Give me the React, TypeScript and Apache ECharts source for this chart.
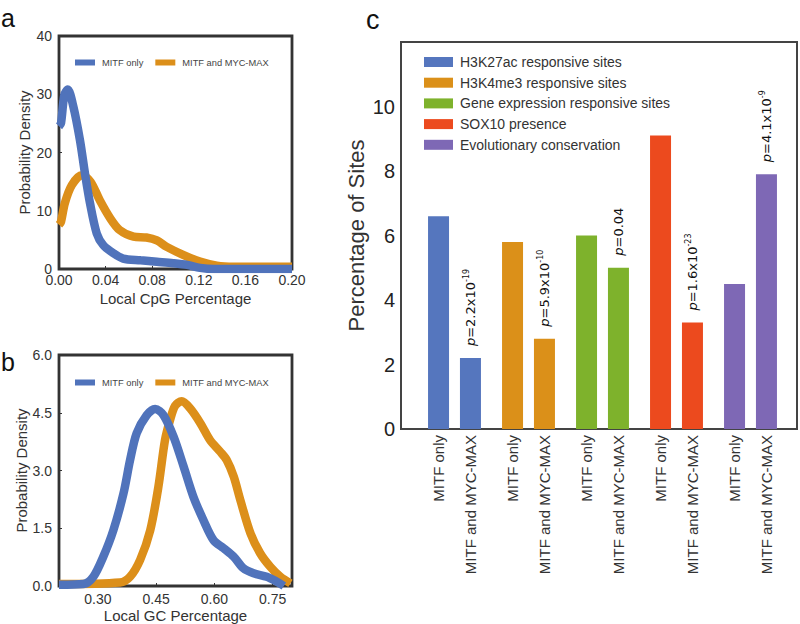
import React, { useEffect, useRef } from "react";
import * as echarts from "echarts";

// ---------- Data ----------
// Panel a: Local CpG percentage densities
const cpgMitfOnly: [number, number][] = [
  [0.0, 24.5], [0.0017, 25.0], [0.0046, 29.9], [0.0075, 30.8], [0.0123, 27.9], [0.018, 22.1],
  [0.0223, 16.4], [0.0266, 11.3], [0.0324, 6.1], [0.038, 4.1], [0.0467, 2.7], [0.055, 1.8],
  [0.07, 1.5], [0.084, 1.25], [0.098, 1.0], [0.11, 0.7], [0.121, 0.2], [0.133, 0.0], [0.2, 0.0],
];
const cpgMitfMycMax: [number, number][] = [
  [0.0, 7.6], [0.0017, 8.1], [0.005, 11.3], [0.011, 14.4], [0.0195, 16.1], [0.027, 15.0],
  [0.035, 11.8], [0.044, 8.7], [0.052, 6.7], [0.064, 5.55], [0.075, 5.4], [0.084, 4.9],
  [0.0925, 3.8], [0.107, 2.4], [0.121, 1.26], [0.1355, 0.57], [0.15, 0.4], [0.178, 0.4], [0.2, 0.4],
];
// Panel b: Local GC percentage densities
const gcMitfOnly: [number, number][] = [
  [0.2, 0.03], [0.263, 0.05], [0.2885, 0.24], [0.314, 0.76], [0.34, 1.45], [0.366, 2.4],
  [0.383, 3.27], [0.4, 3.97], [0.426, 4.44], [0.4476, 4.6], [0.469, 4.44], [0.495, 3.88],
  [0.521, 3.1], [0.546, 2.32], [0.572, 1.71], [0.598, 1.19], [0.624, 0.98], [0.65, 0.76],
  [0.675, 0.46], [0.701, 0.33], [0.735, 0.24], [0.761, 0.11], [0.779, 0.0],
];
const gcMitfMycMax: [number, number][] = [
  [0.2, 0.05], [0.357, 0.09], [0.383, 0.24], [0.409, 0.68], [0.435, 1.45], [0.456, 2.58],
  [0.473, 3.79], [0.486, 4.31], [0.499, 4.68], [0.516, 4.8], [0.538, 4.61], [0.564, 4.23],
  [0.589, 3.79], [0.615, 3.49], [0.632, 3.27], [0.65, 2.84], [0.667, 2.23], [0.693, 1.37],
  [0.718, 0.85], [0.744, 0.5], [0.77, 0.24], [0.796, 0.07],
];
const densityNames = ["MITF only", "MITF and MYC-MAX"];
const gcTicks = [0.3, 0.45, 0.6, 0.75];

// Panel c: percentage of sites
const features = [
  "H3K27ac responsive sites",
  "H3K4me3 responsive sites",
  "Gene expression responsive sites",
  "SOX10 presence",
  "Evolutionary conservation",
];
const pctMitfOnly = [6.6, 5.8, 6.0, 9.1, 4.5];
const pctMitfMycMax = [2.2, 2.8, 5.0, 3.3, 7.9];
const pMantissa = ["2.2", "5.9", "0.04", "1.6", "4.1"];
const pExponent = ["-19", "-10", "", "-23", "-9"];
const cTicks = [0, 2, 4, 6, 8, 10];

// ---------- Styles ----------
const BLUE = "#5073bb";
const ORANGE = "#dc8f1a";
const featureColors = ["#5576be", "#db9019", "#7eb22c", "#ec4a1e", "#7e68b5"];
const SANS = "Liberation Sans";
const TXT = "#333";

export default function App() {
  const ref = useRef<HTMLDivElement>(null);
  useEffect(() => {
    document.body.style.margin = "0";
    if (!ref.current) return;
    const chart = echarts.init(ref.current, null, { renderer: "svg" });

    const densityX = (min: number, max: number, gridIndex: number, name: string, extra: any) => ({
      type: "value",
      gridIndex,
      min,
      max,
      name,
      nameLocation: "middle",
      nameGap: 22,
      nameTextStyle: { fontSize: 15, color: TXT, fontFamily: SANS },
      axisLine: { show: false },
      axisTick: { show: true, inside: true, length: 3, lineStyle: { color: TXT } },
      splitLine: { show: false },
      ...extra,
    });
    const densityY = (max: number, interval: number, gridIndex: number, digits: number) => ({
      type: "value",
      gridIndex,
      min: 0,
      max,
      interval,
      name: "Probability Density",
      nameLocation: "middle",
      nameGap: 27,
      nameTextStyle: { fontSize: 15, color: TXT, fontFamily: SANS },
      axisLine: { show: false },
      axisTick: { show: true, inside: true, length: 3, lineStyle: { color: TXT } },
      splitLine: { show: false },
      axisLabel: {
        fontSize: 14,
        color: TXT,
        fontFamily: SANS,
        margin: 7,
        formatter: (v: number) => v.toFixed(digits),
      },
    });
    const lineSeries = (name: string, data: [number, number][], color: string, idx: number) => ({
      type: "line",
      name,
      xAxisIndex: idx,
      yAxisIndex: idx,
      data,
      smooth: 0.3,
      showSymbol: false,
      symbol: "none",
      lineStyle: { width: 8.5, color },
      itemStyle: { color },
      z: name === densityNames[0] ? 3 : 2,
    });
    const densityLegend = (top: number) => ({
      data: densityNames,
      left: 70,
      top,
      orient: "horizontal",
      icon: "rect",
      itemWidth: 20,
      itemHeight: 6,
      itemGap: 12,
      selectedMode: false,
      textStyle: { fontSize: 9.3, color: "#444", fontFamily: SANS, padding: [0, 0, 0, 2] },
    });

    const pFormatter = (i: number) =>
      pExponent[i]
        ? `{i|p}{n|=${pMantissa[i]}x10}{s|${pExponent[i]}}`
        : `{i|p}{n|=${pMantissa[i]}}`;

    const option: any = {
      animation: false,
      backgroundColor: "#fff",
      textStyle: { fontFamily: SANS },
      grid: [
        { left: 59, top: 36, width: 233, height: 233, show: true, borderColor: "#333", borderWidth: 2.8, backgroundColor: "transparent" },
        { left: 59, top: 355, width: 233, height: 231, show: true, borderColor: "#333", borderWidth: 2.8, backgroundColor: "transparent" },
        { left: 417.5, top: 42, width: 370, height: 387, show: false },
        { left: 401, top: 42, width: 396, height: 387, show: true, borderColor: "#444", borderWidth: 2, backgroundColor: "transparent" },
      ],
      xAxis: [
        densityX(0, 0.2, 0, "Local CpG Percentage", {
          interval: 0.04,
          axisLabel: { fontSize: 14, color: TXT, fontFamily: SANS, margin: 4, formatter: (v: number) => v.toFixed(2) },
        }),
        densityX(0.2, 0.8, 1, "Local GC Percentage", {
          axisLabel: {
            fontSize: 14, color: TXT, fontFamily: SANS, margin: 6,
            customValues: gcTicks,
            formatter: (v: number) => v.toFixed(2),
          },
          axisTick: { show: true, inside: true, length: 3, lineStyle: { color: TXT }, customValues: gcTicks },
        }),
        {
          type: "category",
          gridIndex: 2,
          data: features,
          boundaryGap: true,
          axisLine: { show: false },
          axisTick: { show: false },
          axisLabel: { show: false },
          splitLine: { show: false },
        },
        { type: "value", gridIndex: 3, min: 0, max: 1, show: false },
      ],
      yAxis: [
        densityY(40, 10, 0, 0),
        densityY(6, 1.5, 1, 1),
        { type: "value", gridIndex: 2, min: 0, max: 12, show: false },
        {
          type: "value",
          gridIndex: 3,
          min: 0,
          max: 12,
          interval: 2,
          name: "Percentage of Sites",
          nameLocation: "middle",
          nameGap: 34,
          nameTextStyle: { fontSize: 22, color: TXT, fontFamily: SANS },
          axisLine: { show: false },
          axisTick: { show: false },
          splitLine: { show: false },
          axisLabel: {
            fontSize: 20,
            color: "#222",
            fontFamily: SANS,
            margin: 6,
            formatter: (v: number) => (cTicks.indexOf(v) >= 0 ? String(v) : ""),
          },
        },
      ],
      legend: [
        densityLegend(53),
        densityLegend(373),
        {
          data: features,
          left: 419,
          top: 50,
          orient: "vertical",
          icon: "rect",
          itemWidth: 29,
          itemHeight: 10,
          itemGap: 6.7,
          selectedMode: false,
          textStyle: { fontSize: 14, lineHeight: 14, color: TXT, fontFamily: SANS, padding: [0, 0, 0, 2] },
        },
      ],
      series: [
        lineSeries(densityNames[0], cpgMitfOnly, BLUE, 0),
        lineSeries(densityNames[1], cpgMitfMycMax, ORANGE, 0),
        lineSeries(densityNames[0], gcMitfOnly, BLUE, 1),
        lineSeries(densityNames[1], gcMitfMycMax, ORANGE, 1),
        {
          type: "bar",
          name: "bars: " + densityNames[0],
          xAxisIndex: 2,
          yAxisIndex: 2,
          barWidth: 21,
          barGap: "52%",
          data: pctMitfOnly.map((v, i) => ({ value: v, itemStyle: { color: featureColors[i] } })),
          label: {
            show: true,
            position: "bottom",
            distance: 6,
            rotate: 90,
            align: "right",
            verticalAlign: "middle",
            fontSize: 15,
            color: TXT,
            fontFamily: SANS,
            formatter: () => densityNames[0],
          },
        },
        {
          type: "bar",
          name: "bars: " + densityNames[1],
          xAxisIndex: 2,
          yAxisIndex: 2,
          stack: "myc",
          barWidth: 21,
          barGap: "52%",
          data: pctMitfMycMax.map((v, i) => ({ value: v, itemStyle: { color: featureColors[i] } })),
          label: {
            show: true,
            position: "bottom",
            distance: 6,
            rotate: 90,
            align: "right",
            verticalAlign: "middle",
            fontSize: 15,
            color: TXT,
            fontFamily: SANS,
            formatter: () => densityNames[1],
          },
        },
        {
          type: "bar",
          name: "bars: p",
          xAxisIndex: 2,
          yAxisIndex: 2,
          stack: "myc",
          barWidth: 21,
          barGap: "52%",
          data: pctMitfMycMax.map(() => 0),
          itemStyle: { color: "transparent" },
          label: {
            show: true,
            position: "top",
            distance: 12,
            rotate: 90,
            align: "left",
            verticalAlign: "middle",
            color: "#111",
            formatter: (p: any) => pFormatter(p.dataIndex),
            rich: {
              i: { fontSize: 13, fontStyle: "italic", fontFamily: "DejaVu Sans", color: "#111", lineHeight: 16 },
              n: { fontSize: 13, fontFamily: "DejaVu Sans", color: "#111", lineHeight: 16 },
              s: { fontSize: 8, fontFamily: "DejaVu Sans", color: "#111", lineHeight: 8, verticalAlign: "top" },
            },
          },
        },
        ...features.map((f, i) => ({
          type: "bar",
          name: f,
          xAxisIndex: 3,
          yAxisIndex: 3,
          data: [],
          itemStyle: { color: featureColors[i] },
        })),
      ],
      graphic: [
        { type: "text", left: 1, top: 5, style: { text: "a", fontSize: 25, lineHeight: 18, fontFamily: SANS, fill: "#111" } },
        { type: "text", left: 1, top: 349, style: { text: "b", fontSize: 25, lineHeight: 18, fontFamily: SANS, fill: "#111" } },
        { type: "text", left: 366, top: 6, style: { text: "c", fontSize: 27, lineHeight: 18, fontFamily: SANS, fill: "#111" } },
      ],
    };

    chart.setOption(option);
    return () => chart.dispose();
  }, []);

  return <div ref={ref} style={{ width: 800, height: 624, position: "absolute", left: 0, top: 0 }} />;
}
